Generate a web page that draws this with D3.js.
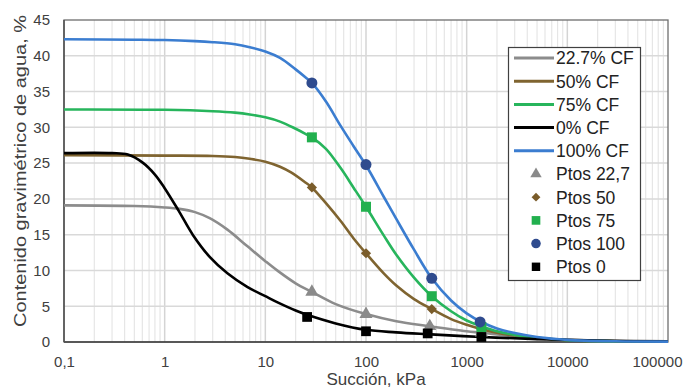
<!DOCTYPE html>
<html><head><meta charset="utf-8">
<script src="https://cdn.jsdelivr.net/npm/d3@7"></script>
<style>
html,body{margin:0;padding:0;background:#fff;}
svg{display:block;font-family:"Liberation Sans",Arial,sans-serif;}
</style></head>
<body><svg id="c" width="683" height="390"></svg>
<script>
// ---- data ----
const xTicks = [0.1, 1, 10, 100, 1000, 10000, 100000];
const xTickLabels = ["0,1", "1", "10", "100", "1000", "10000", "100000"];
const yTicks = [0, 5, 10, 15, 20, 25, 30, 35, 40, 45];

const curve227 = [[0.1,19.1],[0.5,19.0],[1,18.8],[1.4,18.6],[2,18.15],[2.8,17.3],[4.2,15.7],[6.6,13.4],[10,11.3],[13.4,9.9],[20,8.2],[29,7.0],[50,5.3],[100,3.9],[200,2.9],[430,2.2],[1000,1.5],[1400,1.3],[3000,0.8],[10000,0.3],[100000,0.05]];
const curve50 = [[0.1,26.1],[1,26.05],[3,26.0],[5,25.85],[7,25.6],[10,25.2],[14,24.5],[18,23.7],[25,22.3],[29,21.6],[40,19.4],[56,16.9],[75,14.5],[100,12.4],[150,9.6],[200,7.9],[300,6.0],[450,4.6],[700,3.2],[1000,2.4],[1400,1.8],[2000,1.3],[3000,0.9],[5000,0.55],[10000,0.25],[30000,0.1],[100000,0.05]];
const curve75 = [[0.1,32.5],[1,32.45],[3,32.25],[5,32.05],[7,31.8],[10,31.4],[14,30.8],[20,29.8],[25,29.1],[29,28.6],[40,27.0],[56,24.3],[75,21.6],[100,18.9],[150,14.9],[200,12.2],[300,9.0],[450,6.4],[700,4.3],[1000,3.0],[1400,2.2],[2000,1.5],[3000,1.0],[5000,0.6],[10000,0.25],[30000,0.1],[100000,0.05]];
const curve0 = [[0.1,26.4],[0.3,26.4],[0.43,26.2],[0.6,25.1],[0.8,23.4],[1.0,21.5],[1.37,18.4],[1.9,15.0],[2.8,11.9],[4.2,9.6],[6.6,7.7],[10,6.4],[13.4,5.5],[20,4.4],[26,3.8],[50,2.6],[100,1.7],[200,1.35],[400,1.1],[1400,0.7],[5000,0.4],[20000,0.2],[100000,0.1]];
const curve100 = [[0.1,42.3],[0.5,42.25],[1,42.2],[2,42.05],[3,41.9],[5,41.6],[7,41.2],[10,40.6],[14,39.7],[20,38.1],[25,37.0],[29,36.2],[40,33.6],[56,30.2],[75,27.4],[100,24.7],[150,20.3],[200,17.2],[300,12.9],[450,8.9],[700,5.8],[1000,4.0],[1400,2.8],[2000,1.9],[3000,1.25],[5000,0.7],[10000,0.3],[30000,0.1],[100000,0.05]];

const pts227 = [[29,7.0],[100,3.9],[430,2.2],[1400,1.3]];
const pts50 = [[29,21.6],[100,12.4],[450,4.6],[1400,1.8]];
const pts75 = [[29,28.6],[100,18.9],[450,6.4],[1400,2.1]];
const pts100 = [[29,36.2],[100,24.8],[450,8.9],[1360,2.8]];
const pts0 = [[26,3.5],[100,1.5],[410,1.2],[1400,0.7]];

const lineSeries = [
  {name:"22.7% CF", data:curve227, color:"#8c8c8c"},
  {name:"50% CF", data:curve50, color:"#7f6430"},
  {name:"75% CF", data:curve75, color:"#27b55c"},
  {name:"0% CF", data:curve0, color:"#000000"},
  {name:"100% CF", data:curve100, color:"#3b7dd0"}
];
const pointSeries = [
  {name:"Ptos 22,7", data:pts227, color:"#8a8a8a", sym:d3.symbolTriangle, size:75, rot:0},
  {name:"Ptos 50", data:pts50, color:"#7a5c2a", sym:d3.symbolSquare, size:52, rot:45},
  {name:"Ptos 75", data:pts75, color:"#22b04e", sym:d3.symbolSquare, size:100, rot:0},
  {name:"Ptos 100", data:pts100, color:"#2f4b8e", sym:d3.symbolCircle, size:95, rot:0},
  {name:"Ptos 0", data:pts0, color:"#000000", sym:d3.symbolSquare, size:95, rot:0}
];

// ---- chart ----
const svg = d3.select("#c");
const L = 64, R = 668, T = 20, B = 342;
const x = d3.scaleLog().domain([0.1, 100000]).range([L, R]);
const y = d3.scaleLinear().domain([0, 45]).range([B, T]);

// minor vertical grid
const minor = [];
for (let d = 0.1; d < 100000; d *= 10) for (let k = 2; k <= 9; k++) minor.push(d * k);
svg.append("g").selectAll("line").data(minor).join("line")
  .attr("x1", d => x(d)).attr("x2", d => x(d)).attr("y1", T).attr("y2", B)
  .attr("stroke", "#e6e6e6").attr("stroke-width", 1.2);
// major vertical grid
svg.append("g").selectAll("line").data(xTicks.slice(1, -1)).join("line")
  .attr("x1", d => x(d)).attr("x2", d => x(d)).attr("y1", T).attr("y2", B)
  .attr("stroke", "#d4d4d4").attr("stroke-width", 1.5);
// horizontal grid
svg.append("g").selectAll("line").data(yTicks.slice(1, -1)).join("line")
  .attr("x1", L).attr("x2", R).attr("y1", d => y(d)).attr("y2", d => y(d))
  .attr("stroke", "#d9d9d9").attr("stroke-width", 1.5);

// frame
svg.append("rect").attr("x", L).attr("y", T).attr("width", R - L).attr("height", B - T)
  .attr("fill", "none").attr("stroke", "#6e6e6e").attr("stroke-width", 1.3);
svg.append("line").attr("x1", L).attr("x2", R).attr("y1", B).attr("y2", B)
  .attr("stroke", "#404040").attr("stroke-width", 1.5);
svg.append("line").attr("x1", L).attr("x2", L).attr("y1", T).attr("y2", B)
  .attr("stroke", "#505050").attr("stroke-width", 1.5);

// axes
const xAxis = d3.axisBottom(x).tickValues(xTicks).tickFormat((d, i) => xTickLabels[i]).tickSize(0).tickPadding(14);
const gx = svg.append("g").attr("transform", `translate(0,${B})`).call(xAxis);
gx.select(".domain").remove();
gx.selectAll("text").attr("font-size", 15).attr("fill", "#404040").attr("font-family", "Liberation Sans, Arial, sans-serif");
gx.selectAll("text").filter((d, i) => i === xTicks.length - 1)
  .attr("text-anchor", "end").attr("x", 682 - x(100000));

const yAxis = d3.axisLeft(y).tickValues(yTicks).tickSize(0).tickPadding(14);
const gy = svg.append("g").attr("transform", `translate(${L},0)`).call(yAxis);
gy.select(".domain").remove();
gy.selectAll("text").attr("font-size", 15).attr("fill", "#404040").attr("font-family", "Liberation Sans, Arial, sans-serif");

// titles
svg.append("text").attr("x", 376).attr("y", 385).attr("text-anchor", "middle")
  .attr("font-size", 17).attr("fill", "#404040").text("Succión, kPa");
svg.append("text").attr("transform", "translate(26,171) rotate(-90)").attr("text-anchor", "middle")
  .attr("font-size", 17).attr("fill", "#404040")
  .attr("textLength", 312).attr("lengthAdjust", "spacingAndGlyphs")
  .text("Contenido gravimétrico de agua, %");

// lines
const line = d3.line().x(d => x(d[0])).y(d => y(d[1])).curve(d3.curveCatmullRom.alpha(0.5));
svg.append("g").selectAll("path").data(lineSeries).join("path")
  .attr("d", s => line(s.data)).attr("fill", "none")
  .attr("stroke", s => s.color).attr("stroke-width", 2.6);

// points
pointSeries.forEach(s => {
  svg.append("g").selectAll("path").data(s.data).join("path")
    .attr("transform", d => `translate(${x(d[0])},${y(d[1])}) rotate(${s.rot})`)
    .attr("d", d3.symbol().type(s.sym).size(s.size)())
    .attr("fill", s.color);
});

// legend
const lg = svg.append("g");
lg.append("rect").attr("x", 508.5).attr("y", 47.5).attr("width", 132).attr("height", 233)
  .attr("fill", "#fff").attr("stroke", "#404040").attr("stroke-width", 1.2);
const rowY = i => 58 + i * 23.2;
lineSeries.forEach((s, i) => {
  lg.append("line").attr("x1", 514).attr("x2", 554).attr("y1", rowY(i)).attr("y2", rowY(i))
    .attr("stroke", s.color).attr("stroke-width", 3);
  lg.append("text").attr("x", 556).attr("y", rowY(i)).attr("dy", "0.36em")
    .attr("font-size", 17.5).attr("fill", "#222").text(s.name);
});
pointSeries.forEach((s, j) => {
  const i = j + lineSeries.length;
  lg.append("path").attr("transform", `translate(536,${rowY(i)}) rotate(${s.rot})`)
    .attr("d", d3.symbol().type(s.sym).size(s.size * 0.75)()).attr("fill", s.color);
  lg.append("text").attr("x", 556).attr("y", rowY(i)).attr("dy", "0.36em")
    .attr("font-size", 17.5).attr("fill", "#222").text(s.name);
});
</script></body></html>
